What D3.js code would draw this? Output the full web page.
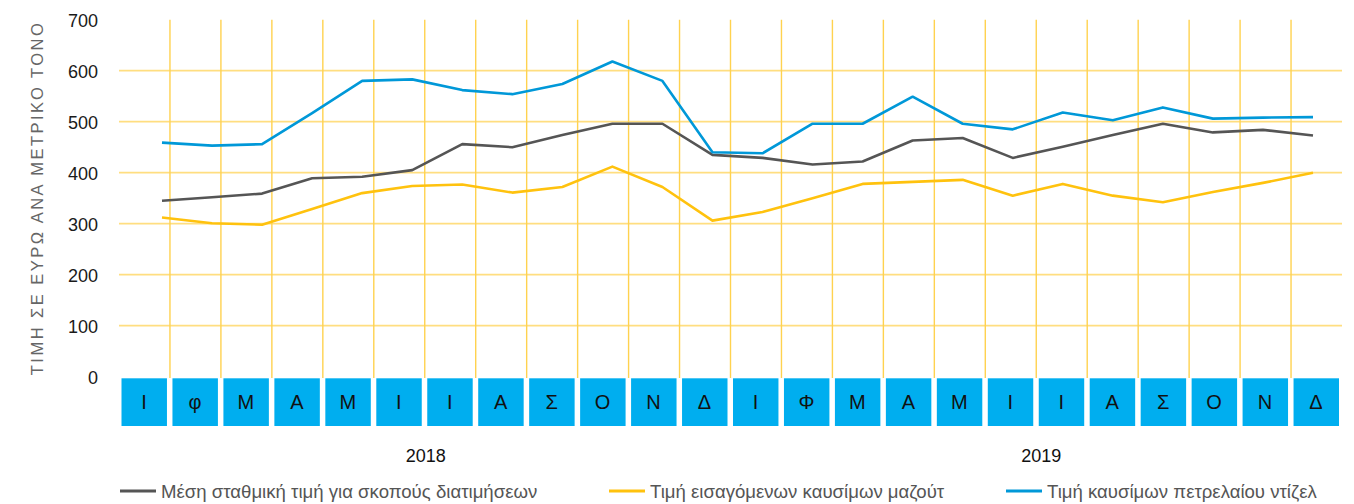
<!DOCTYPE html>
<html>
<head>
<meta charset="utf-8">
<script src="https://cdn.jsdelivr.net/npm/d3@7"></script>
<style>
  html, body { margin: 0; padding: 0; background: #fff; }
  svg { display: block; font-family: "Liberation Sans", Arial, Helvetica, sans-serif; }
</style>
</head>
<body>
<svg id="chart" width="1354" height="504"></svg>
<script>
// ---- data ----
const months = ["Ι","φ","Μ","Α","Μ","Ι","Ι","Α","Σ","Ο","Ν","Δ","Ι","Φ","Μ","Α","Μ","Ι","Ι","Α","Σ","Ο","Ν","Δ"];
const years = ["2018", "2019"];
const yTicks = [0, 100, 200, 300, 400, 500, 600, 700];
const seriesNames = [
  "Μέση σταθμική τιμή για σκοπούς διατιμήσεων",
  "Τιμή εισαγόμενων καυσίμων μαζούτ",
  "Τιμή καυσίμων πετρελαίου ντίζελ"
];
const weightedAvg = [345, 352, 359, 389, 392, 405, 456, 450, 474, 496, 496, 435, 429, 416, 422, 463, 468, 429, 451, 474, 496, 479, 484, 473];
const fuelOil     = [312, 301, 298, 329, 360, 374, 377, 361, 372, 412, 372, 306, 323, 350, 378, 382, 386, 355, 378, 355, 342, 362, 380, 400];
const diesel      = [459, 453, 456, 517, 580, 583, 562, 554, 574, 618, 580, 440, 438, 496, 496, 549, 496, 485, 518, 503, 528, 506, 508, 509];
const yAxisTitle = "ΤΙΜΗ ΣΕ ΕΥΡΩ ΑΝΑ ΜΕΤΡΙΚΟ ΤΟΝΟ";

// ---- layout ----
const colors = ["#555555", "#FFC20E", "#0098D8"];
const svg = d3.select("#chart");
const idx = d3.range(months.length);

const y = d3.scaleLinear().domain([0, 700]).range([376.7, 19.7]);
const xBand = d3.scaleBand().domain(idx).range([119, 1342]);
const xPt = d3.scalePoint().domain(idx).range([162, 1313]);

// horizontal gridlines
svg.append("g").selectAll("line")
  .data(yTicks.filter(d => d > 0 && d < 700))
  .join("line")
  .attr("x1", 119).attr("x2", 1342)
  .attr("y1", d => y(d)).attr("y2", d => y(d))
  .attr("stroke", "#FFDE80").attr("stroke-width", 1.8);

// vertical gridlines at month boundaries
svg.append("g").selectAll("line")
  .data(idx.slice(1))
  .join("line")
  .attr("x1", d => xBand(d)).attr("x2", d => xBand(d))
  .attr("y1", y(700)).attr("y2", 378)
  .attr("stroke", "#FFD24F").attr("stroke-width", 1.4);

// y tick labels
svg.append("g").selectAll("text")
  .data(yTicks)
  .join("text")
  .attr("x", 98)
  .attr("y", d => y(d) + 1.5)
  .attr("text-anchor", "end")
  .attr("dominant-baseline", "central")
  .attr("font-size", 18)
  .attr("fill", "#1a1a1a")
  .text(d => d);

// y axis title
svg.append("text")
  .attr("transform", `translate(43, ${(y(700) + y(0)) / 2 + 1}) rotate(-90)`)
  .attr("text-anchor", "middle")
  .attr("font-size", 16.5)
  .attr("fill", "#666")
  .attr("textLength", 352)
  .attr("lengthAdjust", "spacing")
  .text(yAxisTitle);

// month boxes
const bw = xBand.bandwidth();
const mg = svg.append("g");
mg.selectAll("rect")
  .data(idx)
  .join("rect")
  .attr("x", d => xBand(d) + 2.5)
  .attr("y", 378.3)
  .attr("width", bw - 5.5)
  .attr("height", 47.7)
  .attr("fill", "#00AEEF");
mg.selectAll("text")
  .data(idx)
  .join("text")
  .attr("x", d => xBand(d) + bw / 2 - 0.5)
  .attr("y", 402)
  .attr("text-anchor", "middle")
  .attr("dominant-baseline", "central")
  .attr("font-size", 20)
  .attr("fill", "#111")
  .text(d => months[d]);

// year labels
svg.append("g").selectAll("text")
  .data(years)
  .join("text")
  .attr("x", (d, i) => (xBand(i * 12) + xBand(i * 12 + 11) + bw) / 2 + (i === 0 ? 1 : 5))
  .attr("y", 462)
  .attr("text-anchor", "middle")
  .attr("font-size", 18)
  .attr("fill", "#111")
  .text(d => d);

// lines
const series = [weightedAvg, fuelOil, diesel];
const line = d3.line().x((d, i) => xPt(i)).y(d => y(d));
svg.append("g").selectAll("path")
  .data([fuelOil, weightedAvg, diesel])
  .join("path")
  .attr("d", d => line(d))
  .attr("fill", "none")
  .attr("stroke", d => colors[series.indexOf(d)])
  .attr("stroke-width", 2.6)
  .attr("stroke-linejoin", "round");

// legend
const legendX = [120, 609, 1006];
const lg = svg.append("g").selectAll("g")
  .data(seriesNames)
  .join("g")
  .attr("transform", (d, i) => `translate(${legendX[i]}, 491)`);
lg.append("line")
  .attr("x1", 0).attr("x2", 36)
  .attr("stroke", (d, i) => colors[i]).attr("stroke-width", 2.8);
lg.append("text")
  .attr("x", 41)
  .attr("dominant-baseline", "central")
  .attr("font-size", 18.6)
  .attr("fill", "#555")
  .text(d => d);
</script>
</body>
</html>
